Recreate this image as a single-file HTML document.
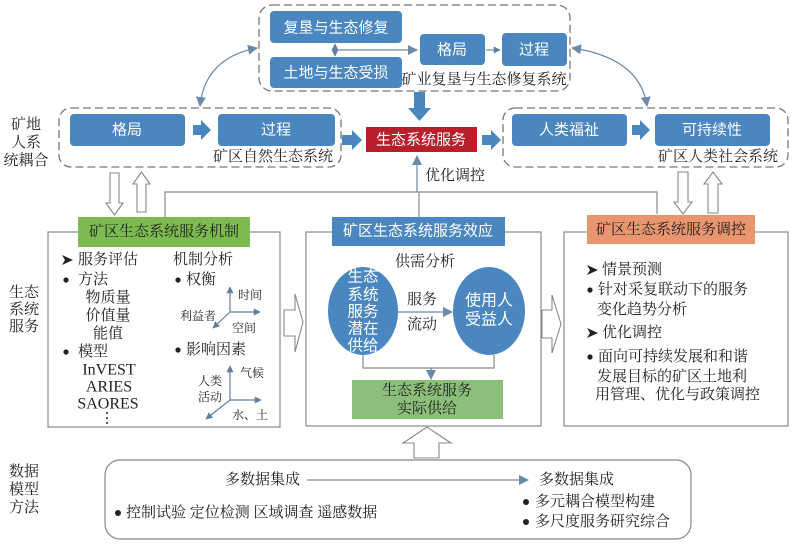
<!DOCTYPE html>
<html><head><meta charset="utf-8">
<style>
html,body{margin:0;padding:0;background:#fff;}
svg{display:block;}
.s{font-family:"Liberation Serif","Noto Serif CJK SC",serif;fill:#222;}
.b{font-family:"Liberation Sans","Noto Sans CJK SC",sans-serif;fill:#fff;}
</style></head><body>
<svg width="796" height="544" viewBox="0 0 796 544" xmlns="http://www.w3.org/2000/svg">
<defs>
<marker id="m" viewBox="0 0 10 10" refX="9" refY="5" markerWidth="7" markerHeight="7" orient="auto-start-reverse" markerUnits="userSpaceOnUse">
<path d="M0,0 L10,5 L0,10 z" fill="#5f7f9f"/></marker>
<marker id="m2" viewBox="0 0 10 10" refX="9" refY="5" markerWidth="10" markerHeight="10" orient="auto-start-reverse" markerUnits="userSpaceOnUse">
<path d="M0,0 L10,5 L0,10 z" fill="#6b89a8"/></marker>
</defs>

<!-- Dashed group boxes -->
<rect x="259" y="5" width="311" height="86" rx="13" fill="none" stroke="#777" stroke-width="1.3" stroke-dasharray="8,4"/>
<rect x="59" y="108" width="282" height="59" rx="12" fill="none" stroke="#777" stroke-width="1.3" stroke-dasharray="8,4"/>
<rect x="503" y="108" width="285" height="59" rx="12" fill="none" stroke="#777" stroke-width="1.3" stroke-dasharray="8,4"/>

<!-- Top group -->
<rect x="270" y="11" width="132" height="32" rx="4" fill="#4a86bf"/>
<text x="336" y="28" class="b" font-size="15" text-anchor="middle" dominant-baseline="central">复垦与生态修复</text>
<rect x="270" y="57" width="132" height="31" rx="4" fill="#4a86bf"/>
<text x="336" y="73" class="b" font-size="15" text-anchor="middle" dominant-baseline="central">土地与生态受损</text>
<line x1="335" y1="44" x2="335" y2="56" stroke="#6b89a8" stroke-width="1.2" marker-start="url(#m)" marker-end="url(#m)"/>
<line x1="335" y1="50" x2="417" y2="50" stroke="#6b89a8" stroke-width="1.2" marker-end="url(#m2)"/>
<rect x="420" y="34" width="65" height="31" rx="4" fill="#4a86bf"/>
<text x="452" y="50" class="b" font-size="15" text-anchor="middle" dominant-baseline="central">格局</text>
<line x1="486" y1="50" x2="500" y2="50" stroke="#6b89a8" stroke-width="1.2" marker-end="url(#m)"/>
<rect x="502" y="33" width="65" height="33" rx="4" fill="#4a86bf"/>
<text x="534" y="50" class="b" font-size="15" text-anchor="middle" dominant-baseline="central">过程</text>
<text x="484" y="80" class="s" font-size="15" text-anchor="middle" dominant-baseline="central">矿业复垦与生态修复系统</text>

<!-- Big down arrow -->
<polygon points="414,92 425,92 425,108 431,108 419.5,121 408,108 414,108" fill="#4a86bf"/>

<!-- Left group -->
<rect x="70" y="114" width="115" height="32" rx="4" fill="#4a86bf"/>
<text x="127" y="130" class="b" font-size="15" text-anchor="middle" dominant-baseline="central">格局</text>
<polygon points="193,125 201,125 201,120 211,130 201,140 201,135 193,135" fill="#4a86bf"/>
<rect x="218" y="114" width="117" height="32" rx="4" fill="#4a86bf"/>
<text x="276" y="130" class="b" font-size="15" text-anchor="middle" dominant-baseline="central">过程</text>
<text x="273" y="157" class="s" font-size="15" text-anchor="middle" dominant-baseline="central">矿区自然生态系统</text>
<polygon points="342,135 352,135 352,130 362,140 352,150 352,145 342,145" fill="#4a86bf"/>

<!-- Red center -->
<rect x="366" y="127" width="111" height="25" fill="#b91f2b"/>
<text x="421" y="140" class="b" font-size="15" text-anchor="middle" dominant-baseline="central">生态系统服务</text>
<polygon points="482,135 491,135 491,130 501,140 491,150 491,145 482,145" fill="#4a86bf"/>

<!-- Right group -->
<rect x="512" y="114" width="115" height="32" rx="4" fill="#4a86bf"/>
<text x="569" y="130" class="b" font-size="15" text-anchor="middle" dominant-baseline="central">人类福祉</text>
<polygon points="632,125 640,125 640,120 650,130 640,140 640,135 632,135" fill="#4a86bf"/>
<rect x="655" y="114" width="115" height="32" rx="4" fill="#4a86bf"/>
<text x="712" y="130" class="b" font-size="15" text-anchor="middle" dominant-baseline="central">可持续性</text>
<text x="718" y="157" class="s" font-size="15" text-anchor="middle" dominant-baseline="central">矿区人类社会系统</text>

<!-- Curved double arrows -->
<path d="M257,48 Q205,58 200,106" fill="none" stroke="#6b89a8" stroke-width="1.2" marker-start="url(#m2)" marker-end="url(#m2)"/>
<path d="M572,48 Q640,58 647,106" fill="none" stroke="#6b89a8" stroke-width="1.2" marker-start="url(#m2)" marker-end="url(#m2)"/>

<!-- Left side labels -->
<g class="s" font-size="15" text-anchor="middle" dominant-baseline="central">
<text x="26" y="125">矿地</text><text x="26" y="143">人系</text><text x="26" y="161">统耦合</text>
<text x="24" y="293">生态</text><text x="24" y="310">系统</text><text x="24" y="327">服务</text>
<text x="24" y="472">数据</text><text x="24" y="490">模型</text><text x="24" y="508">方法</text>
</g>

<!-- Feedback connector lines -->
<polyline points="165,217 165,192 657,192 657,214" fill="none" stroke="#888" stroke-width="1.2"/>
<line x1="419" y1="192" x2="419" y2="217" stroke="#888" stroke-width="1.2"/>
<line x1="417" y1="192" x2="417" y2="156" stroke="#6b89a8" stroke-width="1.2" marker-end="url(#m2)"/>
<text x="425" y="176" class="s" font-size="15" dominant-baseline="central">优化调控</text>

<!-- Hollow vertical arrows left -->
<polygon points="110,173 119,173 119,203 123,203 114.5,215 106,203 110,203" fill="#fff" stroke="#888" stroke-width="1.1"/>
<polygon points="137,212 146,212 146,184 150,184 141.5,172 133,184 137,184" fill="#fff" stroke="#888" stroke-width="1.1"/>
<!-- Hollow vertical arrows right -->
<polygon points="678,172 688,172 688,202 692,202 683,214 674,202 678,202" fill="#fff" stroke="#888" stroke-width="1.1"/>
<polygon points="708,213 718,213 718,184 722,184 713,172 704,184 708,184" fill="#fff" stroke="#888" stroke-width="1.1"/>

<!-- Middle boxes -->
<rect x="48" y="232" width="232" height="195" fill="#fff" stroke="#888" stroke-width="1.2"/>
<rect x="306" y="232" width="235" height="194" fill="#fff" stroke="#888" stroke-width="1.2"/>
<rect x="564" y="232" width="224" height="194" fill="#fff" stroke="#888" stroke-width="1.2"/>

<!-- Headers -->
<rect x="78" y="217" width="172" height="30" fill="#7dbb50"/>
<text x="164" y="232" class="s" font-size="15" text-anchor="middle" dominant-baseline="central" fill="#333">矿区生态系统服务机制</text>
<rect x="332" y="217" width="173" height="29" fill="#4a86bf"/>
<text x="418" y="231" class="b" font-size="15" text-anchor="middle" dominant-baseline="central">矿区生态系统服务效应</text>
<rect x="587" y="215" width="168" height="29" fill="#e9956f"/>
<text x="671" y="230" class="s" font-size="15" text-anchor="middle" dominant-baseline="central" fill="#333">矿区生态系统服务调控</text>

<!-- Hollow horizontal arrows -->
<polygon points="284,310 295,310 295,294 303,322 295,352 295,336 284,336" fill="#fff" stroke="#888" stroke-width="1.1"/>
<polygon points="542,310 552,310 552,295 561,324 552,353 552,338 542,338" fill="#fff" stroke="#888" stroke-width="1.1"/>

<!-- Left box contents -->
<g class="s" font-size="15" dominant-baseline="central">
<polygon points="62,255 73,260 62,265 65,260" fill="#222"/>
<text x="78" y="260">服务评估</text>
<circle cx="66" cy="280" r="2.6" fill="#222"/><text x="78" y="280">方法</text>
<text x="108" y="298" text-anchor="middle">物质量</text>
<text x="108" y="316" text-anchor="middle">价值量</text>
<text x="108" y="334" text-anchor="middle">能值</text>
<circle cx="66" cy="352" r="2.6" fill="#222"/><text x="78" y="352">模型</text>
<text x="109" y="370" text-anchor="middle" font-size="16">InVEST</text>
<text x="109" y="387" text-anchor="middle" font-size="16">ARIES</text>
<text x="108" y="404" text-anchor="middle" font-size="16">SAORES</text>
<circle cx="107" cy="413" r="1" fill="#222"/><circle cx="107" cy="418" r="1" fill="#222"/><circle cx="107" cy="423" r="1" fill="#222"/>
<text x="173" y="260">机制分析</text>
<circle cx="178" cy="280" r="2.6" fill="#222"/><text x="186" y="280">权衡</text>
<circle cx="178" cy="350" r="2.6" fill="#222"/><text x="186" y="350">影响因素</text>
</g>
<g stroke="#5f7f9f" stroke-width="1.2" fill="none">
<line x1="230" y1="312" x2="230" y2="287" marker-end="url(#m)"/>
<line x1="230" y1="312" x2="260" y2="312" marker-end="url(#m)"/>
<line x1="230" y1="312" x2="213" y2="328" marker-end="url(#m)"/>
<line x1="230" y1="400" x2="230" y2="366" marker-end="url(#m)"/>
<line x1="230" y1="400" x2="261" y2="400" marker-end="url(#m)"/>
<line x1="230" y1="400" x2="206" y2="419" marker-end="url(#m)"/>
</g>
<g class="s" font-size="12" dominant-baseline="central">
<text x="238" y="295">时间</text>
<text x="180" y="316">利益者</text>
<text x="232" y="328">空间</text>
<text x="240" y="373">气候</text>
<text x="198" y="381">人类</text>
<text x="198" y="397">活动</text>
<text x="232" y="415">水、土</text>
</g>

<!-- Middle box contents -->
<text x="425" y="262" class="s" font-size="15" text-anchor="middle" dominant-baseline="central">供需分析</text>
<ellipse cx="363" cy="311" rx="35" ry="44" fill="#4a86bf"/>
<g class="b" font-size="15.5" text-anchor="middle" dominant-baseline="central">
<text x="363" y="277">生态</text><text x="363" y="295">系统</text><text x="363" y="312">服务</text><text x="363" y="329">潜在</text><text x="363" y="346">供给</text>
</g>
<ellipse cx="489" cy="311" rx="36" ry="44" fill="#4a86bf"/>
<g class="b" font-size="16" text-anchor="middle" dominant-baseline="central">
<text x="489" y="301">使用人</text><text x="489" y="320">受益人</text>
</g>
<line x1="398" y1="312" x2="452" y2="312" stroke="#6b89a8" stroke-width="1.2" marker-end="url(#m2)"/>
<text x="407" y="300" class="s" font-size="15" dominant-baseline="central">服务</text>
<text x="407" y="325" class="s" font-size="15" dominant-baseline="central">流动</text>
<polyline points="363,354 363,368 494,368 494,355" fill="none" stroke="#888" stroke-width="1.2"/>
<line x1="431" y1="368" x2="431" y2="379" stroke="#6b89a8" stroke-width="1.2" marker-end="url(#m2)"/>
<rect x="352" y="380" width="151" height="39" fill="#8cc07a"/>
<text x="427" y="391" class="s" font-size="15" text-anchor="middle" dominant-baseline="central" fill="#2a3a20">生态系统服务</text>
<text x="427" y="409" class="s" font-size="15" text-anchor="middle" dominant-baseline="central" fill="#2a3a20">实际供给</text>

<!-- Right box contents -->
<g class="s" font-size="15" dominant-baseline="central">
<polygon points="587,265 598,270 587,275 590,270" fill="#222"/>
<text x="602" y="270">情景预测</text>
<circle cx="590" cy="290" r="2.6" fill="#222"/><text x="598" y="290">针对采复联动下的服务</text>
<text x="597" y="310">变化趋势分析</text>
<polygon points="587,328 598,333 587,338 590,333" fill="#222"/>
<text x="602" y="333">优化调控</text>
<circle cx="590" cy="357" r="2.6" fill="#222"/><text x="598" y="357">面向可持续发展和和谐</text>
<text x="597" y="377">发展目标的矿区土地利</text>
<text x="595" y="395">用管理、优化与政策调控</text>
</g>

<!-- Bottom up hollow arrow -->
<polygon points="414,458 439,458 439,443 451,443 427,427 403,443 414,443" fill="#fff" stroke="#888" stroke-width="1.1"/>

<!-- Bottom box -->
<rect x="105" y="460" width="586" height="79" rx="15" fill="#fff" stroke="#888" stroke-width="1.2"/>
<g class="s" font-size="15" dominant-baseline="central">
<text x="225" y="480">多数据集成</text>
<text x="539" y="480">多数据集成</text>
<circle cx="118" cy="513" r="3" fill="#222"/>
<text x="126" y="513">控制试验 定位检测 区域调查 遥感数据</text>
<circle cx="526" cy="502" r="3" fill="#222"/>
<text x="535" y="502">多元耦合模型构建</text>
<circle cx="526" cy="522" r="3" fill="#222"/>
<text x="535" y="522">多尺度服务研究综合</text>
</g>
<line x1="307" y1="480" x2="528" y2="480" stroke="#888" stroke-width="1.2" marker-end="url(#m2)"/>
</svg>
</body></html>
